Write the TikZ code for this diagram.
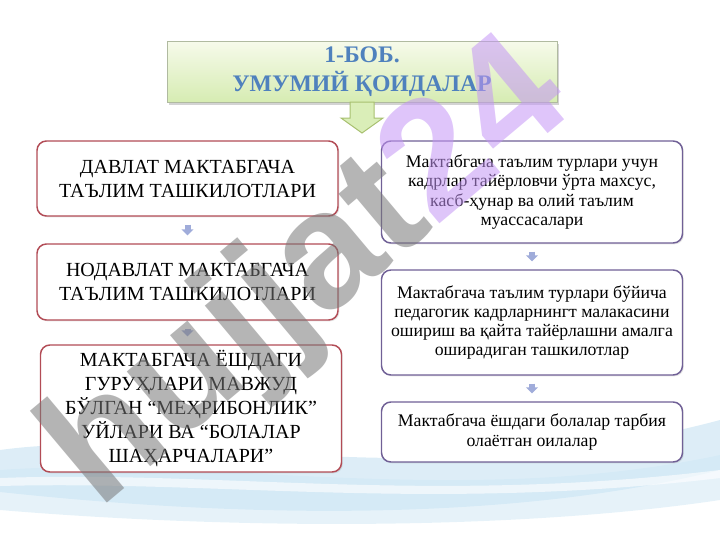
\documentclass[tikz,border=0pt]{standalone}
\usepackage{fontspec}
\setmainfont{Liberation Serif}
\newfontfamily\markfont{Liberation Sans}
\usetikzlibrary{arrows.meta,shadows}

\definecolor{leftline}{RGB}{178,76,86}
\definecolor{rightline}{RGB}{112,96,150}
\definecolor{titleblue}{RGB}{79,129,189}
\definecolor{titletop}{RGB}{246,250,234}
\definecolor{titlebottom}{RGB}{214,236,178}
\definecolor{titleline}{RGB}{176,186,160}
\definecolor{greenarrow}{RGB}{218,238,184}
\definecolor{greenline}{RGB}{168,192,112}
\definecolor{stepblue}{RGB}{160,172,218}
\definecolor{wave}{RGB}{206,230,244}
\definecolor{markgray}{RGB}{120,120,120}
\definecolor{markviolet}{RGB}{196,150,245}

\tikzset{every picture/.style={line width=0.75pt}}
\tikzset{
	titlebox/.style={draw=titleline, top color=titletop, bottom color=titlebottom,
		minimum width=292.5pt, minimum height=45.75pt, align=center,
		text=titleblue, font=\bfseries\fontsize{17.8}{22}\selectfont,
		drop shadow={opacity=0.35, shadow xshift=1.5pt, shadow yshift=-1.5pt}},
	orgbox/.style={draw=leftline, line width=1.1pt, rounded corners=7pt, fill=white,
		minimum width=225.75pt, align=center, inner sep=2pt,
		font=\fontsize{15}{18}\selectfont,
		drop shadow={opacity=0.2, shadow xshift=1pt, shadow yshift=-1pt}},
	staffbox/.style={draw=rightline, line width=1.1pt, rounded corners=7pt, fill=white,
		minimum width=225.75pt, align=center, inner sep=2pt,
		font=\fontsize{13.3}{14.4}\selectfont,
		drop shadow={opacity=0.2, shadow xshift=1pt, shadow yshift=-1pt}},
	stepline/.style={draw=stepblue, line width=4.5pt, shorten <=6pt, shorten >=6pt,
		-{Triangle[width=9pt,length=4.5pt]}}
}

\begin{document}
\begin{tikzpicture}[x=0.75pt,y=0.75pt,yscale=-1,xscale=1]
	\useasboundingbox (0,0) rectangle (720,540);

	% background waves
	\fill [wave, opacity=0.7] (0,450) .. controls (180,425) and (420,500) .. (720,420) -- (720,470) .. controls (520,520) and (260,520) .. (0,492) -- cycle ;
	\fill [wave, opacity=0.5] (0,470) .. controls (200,455) and (460,510) .. (720,455) -- (720,500) .. controls (520,530) and (240,530) .. (0,510) -- cycle ;
	\fill [white, opacity=0.6] (0,478) .. controls (220,470) and (430,505) .. (720,470) -- (720,478) .. controls (430,512) and (220,480) .. (0,486) -- cycle ;

	% title
	\node [titlebox] (title) at (362,72) {1-БОБ.\\УМУМИЙ ҚОИДАЛАР};
	\begin{scope}[shift={(title.south)}]
		\draw [draw=greenline, fill=greenarrow] (-12,-1) -- (12,-1) -- (12,15) -- (21,15) -- (0,30) -- (-21,15) -- (-12,15) -- cycle ;
	\end{scope}

	% left column
	\node [orgbox, minimum height=56.25pt] (davlat) at (187.5,178.5) {ДАВЛАТ МАКТАБГАЧА\\ТАЪЛИМ ТАШКИЛОТЛАРИ};
	\node [orgbox, minimum height=57pt] (nodavlat) at (187.5,282) {НОДАВЛАТ МАКТАБГАЧА\\ТАЪЛИМ ТАШКИЛОТЛАРИ};
	\node [orgbox, minimum height=95.25pt] (mehr) at (191,408.5) {МАКТАБГАЧА ЁШДАГИ\\ГУРУҲЛАРИ МАВЖУД\\БЎЛГАН “МЕҲРИБОНЛИК”\\УЙЛАРИ ВА “БОЛАЛАР\\ШАҲАРЧАЛАРИ”};

	% right column
	\node [staffbox, minimum height=76.5pt] (kadr) at (532,192) {Мактабгача таълим турлари учун\\кадрлар тайёрловчи ўрта махсус,\\касб-ҳунар ва олий таълим\\муассасалари};
	\node [staffbox, minimum height=78.75pt] (malaka) at (532,322.5) {Мактабгача таълим турлари бўйича\\педагогик кадрларнингт малакасини\\ошириш ва қайта тайёрлашни амалга\\оширадиган ташкилотлар};
	\node [staffbox, minimum height=45pt] (oila) at (532,432) {Мактабгача ёшдаги болалар тарбия\\олаётган оилалар};

	% steps
	\draw [stepline] (davlat) -- (nodavlat);
	\draw [stepline] (nodavlat) -- (mehr.north -| nodavlat.south);
	\draw [stepline] (kadr) -- (malaka);
	\draw [stepline] (malaka) -- (oila);

	% watermark
	\node [rotate=40, text opacity=0.55, font=\markfont\bfseries\fontsize{124}{124}\selectfont] (mark) at (310,277) {\textcolor{markgray}{hujjat}\textcolor{markviolet}{24}};

\end{tikzpicture}
\end{document}
